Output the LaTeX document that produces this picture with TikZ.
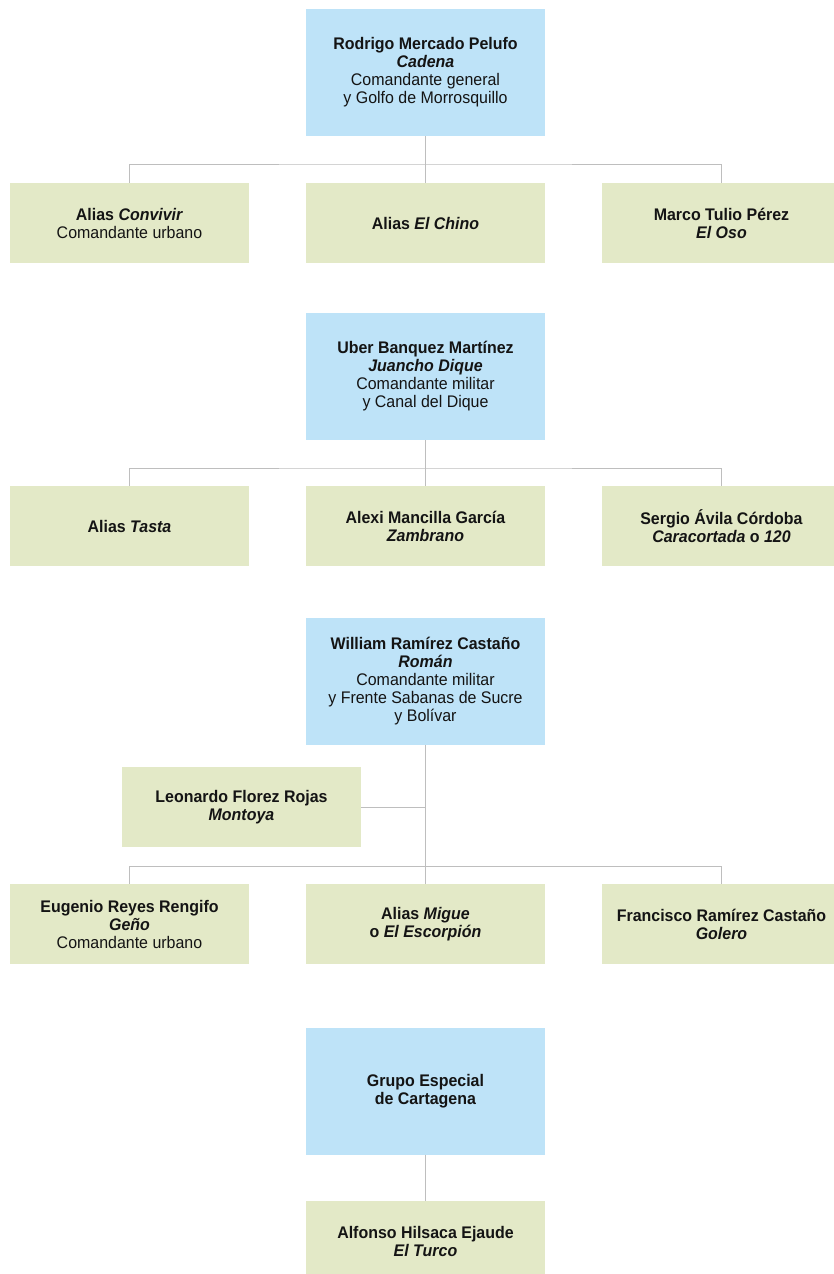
\documentclass[tikz,border=0pt]{standalone}
\usepackage{fontspec}
\setmainfont{Liberation Sans}[FakeStretch=0.95]
\definecolor{bossblue}{RGB}{190,227,248}
\definecolor{membergreen}{RGB}{227,233,199}
\definecolor{linkgray}{RGB}{190,190,190}
\definecolor{inkcol}{RGB}{20,20,20}
\newcommand{\bi}[1]{\textbf{\textit{#1}}}
\tikzset{
  txt/.style={align=center, text=inkcol, inner sep=0pt,
    font=\fontsize{16.8}{18}\selectfont},
  boss/.style={txt, fill=bossblue, minimum width=239pt, minimum height=127pt},
  member/.style={txt, fill=membergreen, minimum width=239pt, minimum height=80pt},
  link/.style={draw=linkgray, line width=1pt}
}
\begin{document}
\begin{tikzpicture}[x=1pt,y=-1pt]
\clip (0,0) rectangle (834,1274);
\fill[white] (0,0) rectangle (834,1274);

% --- Golfo de Morrosquillo ---
\node[boss] (b1) at (425.5,72.5) {\textbf{Rodrigo Mercado Pelufo}\\\bi{Cadena}\\Comandante general\\y Golfo de Morrosquillo};
\node[member] (l1) at (129.5,223) {\textbf{Alias \textit{Convivir}}\\Comandante urbano};
\node[member] (m1) at (425.5,223) {\textbf{Alias \textit{El Chino}}};
\node[member] (r1) at (721.5,223) {\textbf{Marco Tulio Pérez}\\\bi{El Oso}};
\coordinate (j1) at (425.5,164);
\draw[link] (b1.south) -- (m1.north);
\draw[link] (l1.north) |- (j1) -| (r1.north);

% --- Canal del Dique ---
\node[boss] (b2) at (425.5,376.5) {\textbf{Uber Banquez Martínez}\\\bi{Juancho Dique}\\Comandante militar\\y Canal del Dique};
\node[member] (l2) at (129.5,526) {\textbf{Alias \textit{Tasta}}};
\node[member] (m2) at (425.5,526) {\textbf{Alexi Mancilla García}\\\bi{Zambrano}};
\node[member] (r2) at (721.5,526) {\textbf{Sergio Ávila Córdoba}\\\bi{Caracortada}\textbf{ o }\bi{120}};
\coordinate (j2) at (425.5,468);
\draw[link] (b2.south) -- (m2.north);
\draw[link] (l2.north) |- (j2) -| (r2.north);

% --- Sabanas de Sucre y Bolívar ---
\node[boss] (b3) at (425.5,681.5) {\textbf{William Ramírez Castaño}\\\bi{Román}\\Comandante militar\\y Frente Sabanas de Sucre\\y Bolívar};
\node[member] (mo) at (241.5,807) {\textbf{Leonardo Florez Rojas}\\\bi{Montoya}};
\node[member] (l3) at (129.5,924) {\textbf{Eugenio Reyes Rengifo}\\\bi{Geño}\\Comandante urbano};
\node[member] (m3) at (425.5,924) {\textbf{Alias \textit{Migue}}\\\textbf{o \textit{El Escorpión}}};
\node[member] (r3) at (721.5,924) {\textbf{Francisco Ramírez Castaño}\\\bi{Golero}};
\coordinate (j3) at (425.5,866);
\draw[link] (b3.south) -- (m3.north);
\draw[link] (mo.east) -- (mo.east -| b3.south);
\draw[link] (l3.north) |- (j3) -| (r3.north);

% --- Cartagena ---
\node[boss] (b4) at (425.5,1091) {\textbf{Grupo Especial}\\\textbf{de Cartagena}};
\node[member] (m4) at (425.5,1241) {\textbf{Alfonso Hilsaca Ejaude}\\\bi{El Turco}};
\draw[link] (b4.south) -- (m4.north);
\end{tikzpicture}
\end{document}
